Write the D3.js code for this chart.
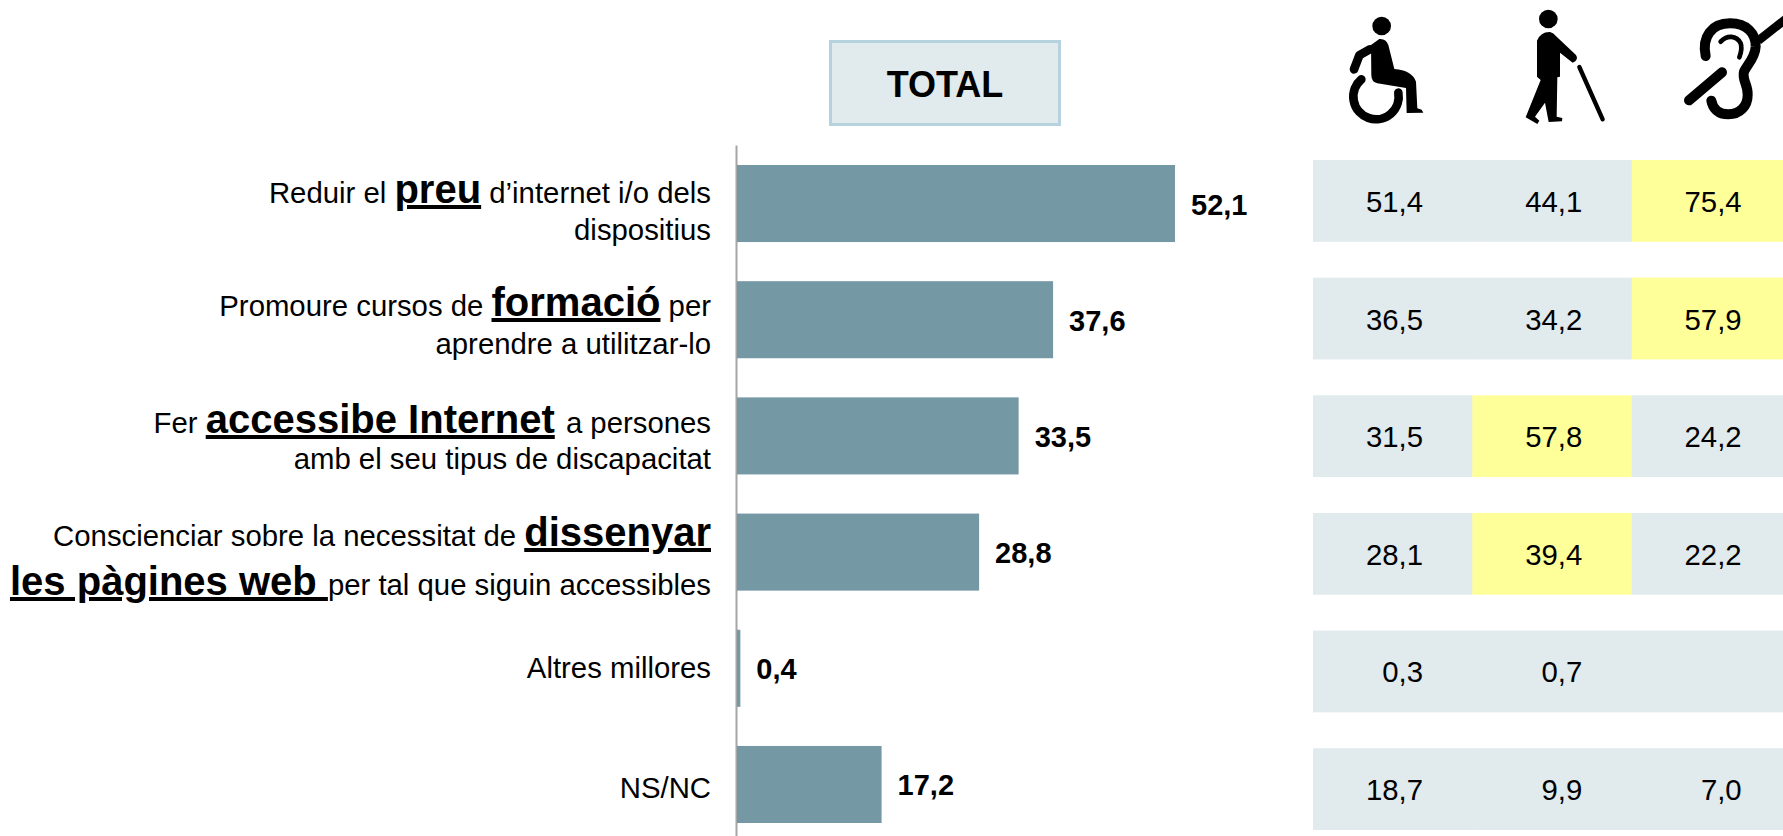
<!DOCTYPE html>
<html><head><meta charset="utf-8">
<script src="https://cdn.jsdelivr.net/npm/d3@7/dist/d3.min.js"></script>
<style>html,body{margin:0;padding:0;background:#fff;overflow:hidden}svg{display:block}text{font-family:"Liberation Sans",Arial,sans-serif;fill:#000}</style>
</head><body><div id="chart"></div>
<script>
const categories = ["preu","formacio","accessible","dissenyar","altres","nsnc"];
const totalValues = [52.1,37.6,33.5,28.8,0.4,17.2];
const wheelchairValues = [51.4,36.5,31.5,28.1,0.3,18.7];
const blindValues = [44.1,34.2,57.8,39.4,0.7,9.9];
const deafValues = [75.4,57.9,24.2,22.2,null,7.0];
const highlighted = [[2,0],[2,1],[1,2],[1,3]];
const labelLines = [
 [[["Reduir el ",0],["preu",1],[" d’internet i/o dels",0]],[["dispositius",0]]],
 [[["Promoure cursos de ",0],["formació",1],[" per",0]],[["aprendre a utilitzar-lo",0]]],
 [[["Fer ",0],["accessibe Internet",1],[" ",2],["a persones",0]],[["amb el seu tipus de discapacitat",0]]],
 [[["Conscienciar sobre la necessitat de ",0],["dissenyar",1]],[["les pàgines web ",1],["per tal que siguin accessibles",0]]],
 [[["Altres millores",0]]],
 [[["NS/NC",0]]]
];
const labelBaselines = [[203,240],[316,354],[433,469],[546,595],[678],[798]];
const fmt = v => d3.format(".1f")(v).replace(".",",");

const svg = d3.select("#chart").append("svg").attr("width",1783).attr("height",836);
const x = d3.scaleLinear().domain([0,52.1]).range([737,1175]);
const y = d3.scaleBand().domain(categories).range([165,823]).paddingInner(0.337);
const rowY = d3.scaleBand().domain(categories).range([160,830]).paddingInner(0.305);
const colX = d3.scaleBand().domain([0,1,2]).range([1313,1791]);

// Category labels
labelLines.forEach((lines,i)=>lines.forEach((segs,j)=>{
  const t = svg.append("text").attr("x",711).attr("y",labelBaselines[i][j]).attr("text-anchor","end").style("white-space","pre");
  segs.forEach(([s,e])=>t.append("tspan").text(s).attr("font-size",e?40:29.33).attr("font-weight",e?700:400)
    .style("text-decoration",e===1?"underline":null).style("text-decoration-thickness",e===1?"4px":null));
}));

// Axis
const axis = d3.axisLeft(d3.scaleLinear().domain([0,1]).range([145,836])).ticks(0).tickSize(0);
svg.append("g").attr("transform","translate(736,0)").call(axis).call(g=>g.select("path").attr("stroke","#a6a6a6").attr("stroke-width",2));

// Bars
svg.selectAll("rect.bar").data(totalValues).join("rect").attr("class","bar")
 .attr("x",x(0)).attr("y",(d,i)=>y(categories[i])).attr("width",d=>x(d)-x(0)).attr("height",y.bandwidth()).attr("fill","#7598a5");
svg.selectAll("text.val").data(totalValues).join("text").attr("class","val")
 .attr("x",d=>x(d)+16).attr("y",(d,i)=>y(categories[i])+y.bandwidth()/2+11)
 .attr("font-size",29).attr("font-weight",700).text(fmt);

// TOTAL box
svg.append("rect").attr("x",830.5).attr("y",41.5).attr("width",229).attr("height",83).attr("fill","#e1eaed").attr("stroke","#b7d2df").attr("stroke-width",3);
svg.append("text").attr("x",945).attr("y",97).attr("text-anchor","middle").attr("font-size",36).attr("font-weight",700).text("TOTAL");

// Table
[wheelchairValues,blindValues,deafValues].forEach((vals,c)=>{
  const g = svg.append("g");
  g.selectAll("rect").data(vals).join("rect")
   .attr("x",colX(c)).attr("y",(d,i)=>rowY(categories[i])).attr("width",colX.bandwidth()+0.5).attr("height",rowY.bandwidth())
   .attr("fill",(d,i)=>highlighted.some(h=>h[0]===c&&h[1]===i)?"#ffff99":"#e1eaed");
  g.selectAll("text").data(vals).join("text")
   .attr("x",colX(c)+110).attr("y",(d,i)=>rowY(categories[i])+rowY.bandwidth()/2+11)
   .attr("text-anchor","end").attr("font-size",29.33).text(d=>d==null?"":fmt(d));
});

// Icons (drawn in 3x space)
const icons = svg.append("g").attr("transform","translate(1300,0) scale(0.33333)");
const solid = (d)=>icons.append("path").attr("d",d).attr("fill","#000");
const line = (d,w,cap)=>icons.append("path").attr("d",d).attr("fill","none").attr("stroke","#000").attr("stroke-width",w).attr("stroke-linecap",cap||"round").attr("stroke-linejoin","round");
icons.append("circle").attr("cx",245).attr("cy",78).attr("r",28);
solid("M213,135 L238,117 Q258,115 265,135 L283,207 Q335,210 348,245 L352,325 L365,329 L370,338 L320,339 L318,264 L232,250 Q214,246 214,225 Z");
line("M210,148 L178,166 L162,208",26);
line("M184,238 A68,68 0 1,0 295,278",26);
icons.append("circle").attr("cx",745).attr("cy",57).attr("r",28);
solid("M711,122 Q722,95 750,96 Q760,98 770,110 L828,165 Q838,180 818,188 L780,158 L780,230 L772,232 L770,350 L787,354 L786,364 L746,366 L735,308 L705,350 L718,362 L712,372 L677,352 L722,240 L711,230 Z");
line("M838,201 L908,358",13);
line("M1217,168 C1205,110 1235,70 1290,70 C1340,70 1368,100 1367,140 C1365,175 1340,195 1332,215 C1325,240 1345,255 1343,285 C1343,318 1320,343 1285,343 C1255,343 1238,325 1234,302",30);
line("M1262,125 C1280,105 1310,105 1322,130 C1328,145 1322,160 1318,172",14);
line("M1375,122 L1460,55",26,"butt");
line("M1266,217 L1167,301",30);
</script></body></html>
